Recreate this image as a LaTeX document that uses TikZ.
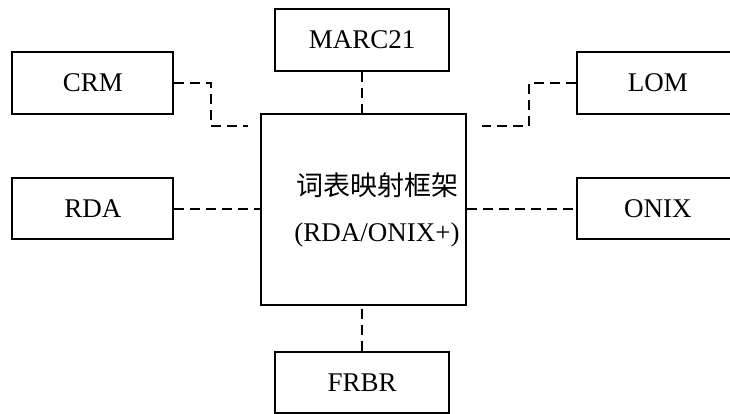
\documentclass[tikz,border=0pt]{standalone}
\usepackage{fontspec}
\setmainfont{Liberation Serif}
\newfontfamily\cjkfont{Noto Sans CJK SC}
\begin{document}
\begin{tikzpicture}[x=1pt,y=-1pt,
  box/.style={draw=black,line width=2pt,inner sep=0pt,font=\fontsize{27}{32}\selectfont},
  link/.style={draw=black,line width=2pt,dash pattern=on 10pt off 6pt},
  lbl/.style={inner sep=0pt,anchor=base,font=\fontsize{27}{32}\selectfont}]
\useasboundingbox (0,0) rectangle (730,414);
\begin{scope}
\clip (0,0) rectangle (730,414);
\node[box,minimum width=173.7pt,minimum height=61.7pt] (marc) at (362.2,39.85) {MARC21};
\node[box,minimum width=161pt,minimum height=62.3pt] (crm) at (92.8,82.85) {CRM};
\node[box,minimum width=161pt,minimum height=62.3pt] (lom) at (657.8,82.85) {LOM};
\node[box,minimum width=161pt,minimum height=61.6pt] (rda) at (92.8,208.5) {RDA};
\node[box,minimum width=161pt,minimum height=61.6pt] (onix) at (657.8,208.5) {ONIX};
\node[box,minimum width=204.4pt,minimum height=190.7pt] (map) at (363.5,209.35) {};
\node[box,minimum width=173.7pt,minimum height=61pt] (frbr) at (362.2,382.5) {FRBR};
\end{scope}
\node[lbl] (maptitle) at (377,195) {\cjkfont 词表映射框架};
\node[lbl] (mapsub) at (377,241.5) {(RDA/ONIX+)};
\coordinate (crmend) at (248,126);
\coordinate (lomend) at (481.7,126);
\draw[link] (crm.east) -- (210.7,82.85) -- (210.7,126) -- (crmend);
\draw[link] (lom.west) -- (529.3,82.85) -- (529.3,126) -- (lomend);
\draw[link] (marc.south) -- (marc.south |- map.north);
\draw[link] (rda.east) -- (rda.east -| map.west);
\draw[link] (map.east |- onix.west) -- (onix.west);
\draw[link] (frbr.north) -- (frbr.north |- map.south);
\end{tikzpicture}
\end{document}
